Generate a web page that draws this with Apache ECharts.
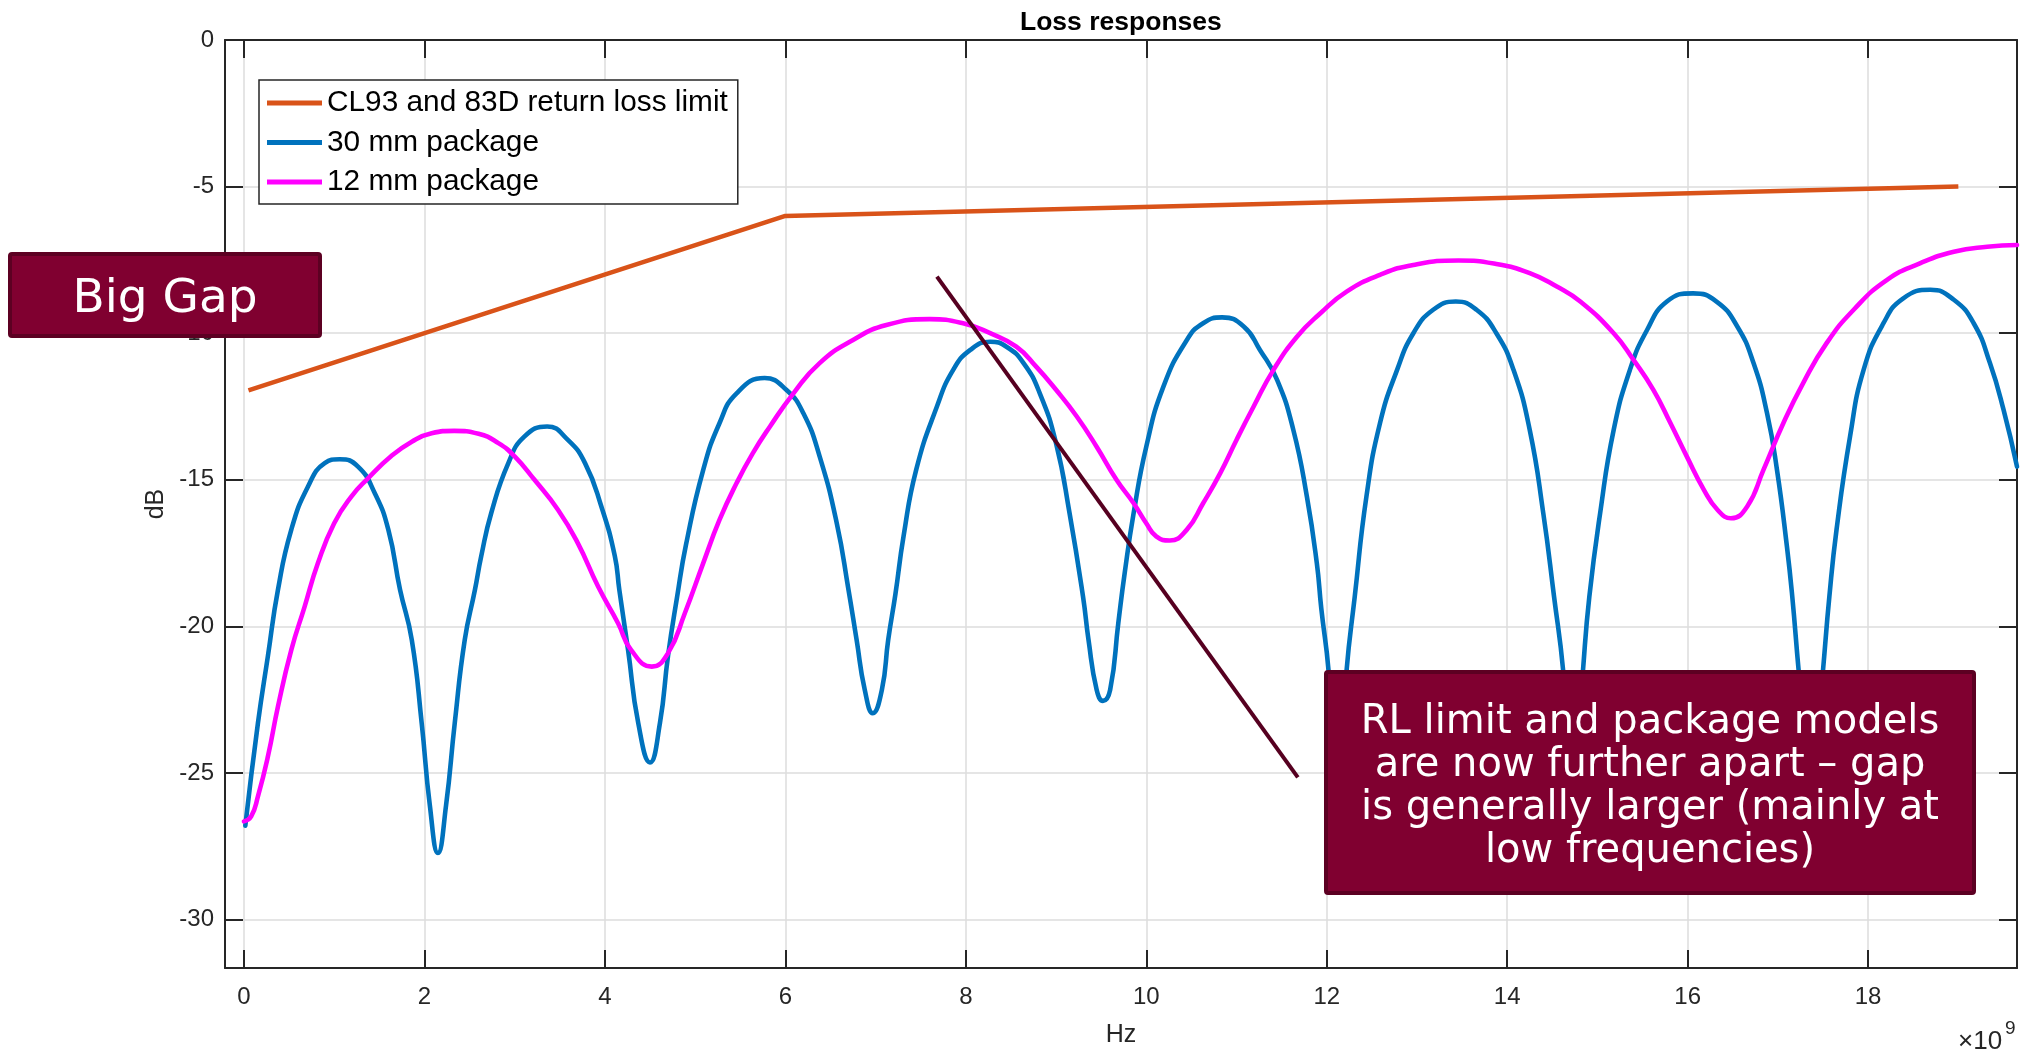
<!DOCTYPE html>
<html>
<head>
<meta charset="utf-8">
<title>Loss responses</title>
<script src="https://cdn.jsdelivr.net/npm/echarts@6/dist/echarts.min.js"></script>
<style>
html,body{margin:0;padding:0;background:#fff;}
#chart{width:2021px;height:1049px;}
</style>
</head>
<body>
<div id="chart"></div>
<script>
// ---- data (frequency in GHz, i.e. units of 1e9 Hz; values in dB) ----
const seriesNames = ['CL93 and 83D return loss limit', '30 mm package', '12 mm package'];

const limitFreq = [0.05, 6, 19];
const limitDb   = [-11.95, -6.0, -5.0];

const blueFreq = [0.015, 0.155, 0.266, 0.377, 0.525, 0.71, 0.895, 1.06, 1.264, 1.449, 1.6, 1.73, 1.86, 1.97, 2.06, 2.15, 2.24, 2.336, 2.447, 2.56, 2.63, 2.74, 2.93, 3.11, 3.36, 3.59, 3.78, 3.96, 4.11, 4.16, 4.257, 4.37, 4.5, 4.61, 4.7, 4.8, 4.9, 5.09, 5.27, 5.46, 5.77, 6.01, 6.2, 6.38, 6.57, 6.7, 6.79, 6.88, 6.97, 7.07, 7.14, 7.22, 7.31, 7.45, 7.68, 7.86, 8.05, 8.27, 8.45, 8.64, 8.82, 9.0, 9.15, 9.3, 9.36, 9.45, 9.52, 9.6, 9.69, 9.76, 9.86, 10.0, 10.19, 10.45, 10.63, 10.84, 11.08, 11.26, 11.45, 11.63, 11.78, 11.89, 11.94, 12.02, 12.12, 12.22, 12.31, 12.44, 12.59, 12.78, 12.96, 13.18, 13.43, 13.66, 13.88, 14.07, 14.25, 14.4, 14.52, 14.62, 14.73, 14.84, 14.91, 15.03, 15.18, 15.36, 15.55, 15.77, 16.06, 16.32, 16.55, 16.73, 16.88, 16.99, 17.1, 17.16, 17.23, 17.37, 17.5, 17.57, 17.65, 17.8, 17.95, 18.17, 18.39, 18.69, 18.95, 19.17, 19.35, 19.5, 19.65];
const blueDb = [-26.8, -23.3, -21.0, -18.75, -16.7, -15.23, -14.43, -14.3, -14.55, -15.45, -16.7, -18.75, -20.46, -23.3, -26.1, -27.73, -26.1, -23.3, -20.46, -18.75, -17.6, -16.14, -14.43, -13.52, -13.18, -13.64, -14.43, -15.9, -17.6, -18.75, -20.8, -23.3, -24.64, -23.3, -21.0, -19.0, -17.2, -14.66, -13.07, -12.05, -11.53, -11.93, -12.73, -14.2, -16.48, -18.75, -20.46, -22.16, -22.96, -22.16, -20.46, -18.9, -16.93, -14.66, -12.5, -11.25, -10.57, -10.29, -10.46, -11.02, -12.05, -13.75, -16.14, -19.0, -20.46, -22.16, -22.54, -22.16, -19.89, -18.2, -16.14, -13.87, -11.82, -10.23, -9.66, -9.46, -9.77, -10.57, -11.59, -13.3, -15.57, -17.84, -19.4, -21.5, -26.0, -21.5, -19.0, -15.57, -13.07, -11.25, -10.0, -9.2, -8.92, -9.2, -10.0, -11.25, -13.3, -16.14, -19.0, -21.5, -26.0, -21.5, -19.0, -16.14, -13.3, -11.25, -9.89, -8.92, -8.64, -8.92, -9.77, -11.02, -12.73, -14.66, -17.27, -19.0, -21.5, -26.0, -21.5, -19.0, -16.7, -13.52, -11.25, -9.66, -8.81, -8.52, -8.86, -9.66, -11.02, -12.6, -14.55];

const magentaFreq = [0.0, 0.08, 0.155, 0.266, 0.377, 0.525, 0.67, 0.82, 1.0, 1.19, 1.375, 1.63, 1.86, 2.08, 2.33, 2.6, 2.82, 3.0, 3.22, 3.48, 3.7, 3.925, 4.146, 4.29, 4.52, 4.7, 4.886, 5.09, 5.27, 5.46, 5.64, 5.83, 6.09, 6.38, 6.75, 7.12, 7.6, 7.97, 8.27, 8.56, 8.78, 9.0, 9.23, 9.45, 9.67, 9.86, 10.0, 10.11, 10.26, 10.45, 10.63, 10.82, 11.0, 11.19, 11.41, 11.67, 11.93, 12.22, 12.59, 12.96, 13.46, 13.88, 14.25, 14.55, 14.81, 15.18, 15.4, 15.62, 15.81, 15.99, 16.18, 16.33, 16.48, 16.66, 16.84, 17.06, 17.28, 17.54, 17.84, 18.21, 18.58, 18.95, 19.32, 19.65];
const magentaDb = [-26.65, -26.48, -25.8, -24.43, -22.73, -20.8, -19.35, -17.84, -16.48, -15.57, -14.95, -14.2, -13.7, -13.41, -13.33, -13.43, -13.75, -14.2, -15.0, -16.02, -17.16, -18.64, -19.89, -20.8, -21.37, -20.91, -19.55, -17.84, -16.37, -15.11, -14.09, -13.18, -12.05, -11.02, -10.23, -9.72, -9.52, -9.66, -10.0, -10.46, -11.14, -11.93, -12.84, -13.87, -15.0, -15.8, -16.48, -16.93, -17.07, -16.7, -15.8, -14.77, -13.64, -12.5, -11.25, -10.12, -9.32, -8.58, -8.01, -7.67, -7.52, -7.64, -7.95, -8.41, -8.92, -10.0, -10.91, -11.93, -13.07, -14.2, -15.34, -16.02, -16.31, -15.91, -14.66, -13.07, -11.7, -10.34, -9.2, -8.18, -7.61, -7.22, -7.05, -6.99];

// annotation pointer line (slide overlay), in data coordinates
const pointerFreq = [7.68, 11.68];
const pointerDb   = [-8.07, -25.15];

const xTicks = [0, 2, 4, 6, 8, 10, 12, 14, 16, 18];
const yTicks = [-30, -25, -20, -15, -10, -5, 0];
const xRange = [-0.21, 19.65];
const yRange = [-31.65, 0];

const zip = (xs, ys) => xs.map((x, i) => [x, ys[i]]);

// ---- chart ----
const FONT = "'Liberation Sans', Arial, Helvetica, sans-serif";
const AX = '#262626';
const chart = echarts.init(document.getElementById('chart'), null, {renderer: 'canvas'});

function xAxisDef(pos, main) {
  return {
    type: 'value', position: pos, min: xRange[0], max: xRange[1],
    name: main ? 'Hz' : '', nameLocation: 'middle', nameGap: 55,
    nameTextStyle: {fontSize: 25, color: AX, fontFamily: FONT},
    axisLine: {show: true, onZero: false, lineStyle: {color: AX, width: 2}},
    axisTick: {show: true, inside: true, length: 18, lineStyle: {color: AX, width: 2}, customValues: xTicks},
    axisLabel: {show: main, margin: 17, fontSize: 24, color: AX, fontFamily: FONT, customValues: xTicks},
    splitLine: {show: main, lineStyle: {color: '#dcdcdc', width: 1.5}},
    minorTick: {show: false}
  };
}
function yAxisDef(pos, main) {
  return {
    type: 'value', position: pos, min: yRange[0], max: yRange[1],
    name: main ? 'dB' : '', nameLocation: 'middle', nameGap: 51, nameRotate: 90,
    nameTextStyle: {fontSize: 25, color: AX, fontFamily: FONT},
    axisLine: {show: true, onZero: false, lineStyle: {color: AX, width: 2}},
    axisTick: {show: true, inside: true, length: 18, lineStyle: {color: AX, width: 2}, customValues: yTicks},
    axisLabel: {show: main, margin: 11, fontSize: 24, color: AX, fontFamily: FONT, customValues: yTicks},
    splitLine: {show: main, lineStyle: {color: '#dcdcdc', width: 1.5}}
  };
}

const option = {
  animation: false,
  backgroundColor: '#ffffff',
  textStyle: {fontFamily: FONT},
  title: {
    text: 'Loss responses', left: 1020, top: 9, padding: 0,
    textStyle: {fontSize: 26.5, fontWeight: 'bold', color: '#000', fontFamily: FONT}
  },
  grid: {left: 225, right: 4, top: 40, bottom: 81, containLabel: false, outerBoundsMode: 'none'},
  xAxis: [xAxisDef('bottom', true), xAxisDef('top', false)],
  yAxis: [yAxisDef('left', true), yAxisDef('right', false)],
  legend: {
    data: seriesNames, orient: 'vertical', left: 259, top: 80,
    icon: 'rect', itemWidth: 55, itemHeight: 5, itemGap: 9.5,
    padding: [8, 10, 7, 8],
    backgroundColor: '#ffffff', borderColor: '#262626', borderWidth: 1.5, borderRadius: 0,
    textStyle: {fontSize: 29.8, lineHeight: 30, color: '#000', fontFamily: FONT},
    selectedMode: false
  },
  series: [
    {name: seriesNames[0], type: 'line', data: zip(limitFreq, limitDb), symbol: 'none', showSymbol: false, smooth: false,
     lineStyle: {color: '#D95319', width: 4.5}, itemStyle: {color: '#D95319'}, z: 3},
    {name: seriesNames[1], type: 'line', data: zip(blueFreq, blueDb), symbol: 'none', showSymbol: false,
     smooth: 0.5, smoothMonotone: 'none',
     lineStyle: {color: '#0072BD', width: 4.6, join: 'round', cap: 'round'}, itemStyle: {color: '#0072BD'}, z: 4},
    {name: seriesNames[2], type: 'line', data: zip(magentaFreq, magentaDb), symbol: 'none', showSymbol: false,
     smooth: 0.5, smoothMonotone: 'none',
     lineStyle: {color: '#FF00FF', width: 4.6, join: 'round', cap: 'round'}, itemStyle: {color: '#FF00FF'}, z: 5},
    {name: 'pointer', type: 'line', data: zip(pointerFreq, pointerDb), symbol: 'none', showSymbol: false, silent: true,
     lineStyle: {color: '#560020', width: 4}, itemStyle: {color: '#560020'}, z: 6}
  ],
  graphic: [
    {type: 'rect', z: 100, shape: {x: 10, y: 254, width: 310, height: 82, r: 2},
     style: {fill: '#800030', stroke: '#5c0022', lineWidth: 4}},
    {type: 'text', z: 101, x: 165, y: 300,
     style: {text: 'Big Gap', fill: '#ffffff', font: "47px 'DejaVu Sans', Verdana, sans-serif",
             textAlign: 'center', textVerticalAlign: 'middle'}},
    {type: 'rect', z: 100, shape: {x: 1326, y: 672, width: 648, height: 221, r: 2},
     style: {fill: '#800030', stroke: '#5c0022', lineWidth: 4}},
    {type: 'text', z: 101, x: 1650, y: 787,
     style: {text: 'RL limit and package models\nare now further apart \u2013 gap\nis generally larger (mainly at\nlow frequencies)',
             fill: '#ffffff', font: "40px 'DejaVu Sans', Verdana, sans-serif", lineHeight: 43,
             textAlign: 'center', textVerticalAlign: 'middle'}},
    {type: 'text', z: 101, x: 1958, y: 1042,
     style: {text: '\u00d710', fill: AX, font: "26px 'Liberation Sans', Arial, sans-serif",
             textAlign: 'left', textVerticalAlign: 'middle'}},
    {type: 'text', z: 101, x: 2005, y: 1029,
     style: {text: '9', fill: AX, font: "19px 'Liberation Sans', Arial, sans-serif",
             textAlign: 'left', textVerticalAlign: 'middle'}}
  ]
};
chart.setOption(option);
</script>
</body>
</html>
